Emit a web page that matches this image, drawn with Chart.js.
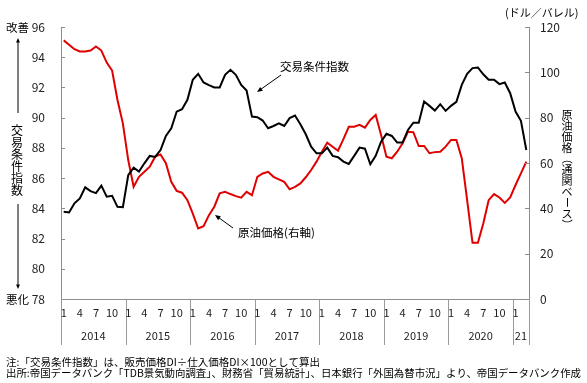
<!DOCTYPE html>
<html>
<head>
<meta charset="utf-8">
<script src="https://cdn.jsdelivr.net/npm/chart.js@4/dist/chart.umd.min.js"></script>
<style>
  html, body { margin: 0; padding: 0; background: #fff; }
  #wrap { width: 587px; height: 383px; position: relative; }
</style>
</head>
<body>
<div id="wrap"><canvas id="chart"></canvas></div>
<script>
// Years on the x axis and how many months each one has
const years = ['2014', '2015', '2016', '2017', '2018', '2019', '2020', '21'];
const monthsPerYear = [12, 12, 12, 12, 12, 12, 12, 3];
const monthTicks = ['1', '', '', '4', '', '', '7', '', '', '10', '', ''];

// 交易条件指数 (left axis)
const termsOfTrade = [
  83.77, 83.73, 84.33, 84.66, 85.39, 85.14, 85.01, 85.5, 84.77, 84.83, 84.1, 84.07,
  86.2, 86.69, 86.43, 86.98, 87.47, 87.4, 87.86, 88.79, 89.3, 90.4, 90.56, 91.18,
  92.51, 92.9, 92.33, 92.15, 92.0, 92.0, 92.84, 93.17, 92.84, 92.17, 91.8, 90.07,
  90.03, 89.81, 89.3, 89.45, 89.63, 89.45, 89.97, 90.14, 89.57, 88.9, 88.08, 87.64,
  87.64, 88.02, 87.47, 87.38, 87.09, 86.94, 87.47, 88.02, 87.95, 86.92, 87.47, 88.41,
  88.93, 88.79, 88.35, 88.35, 89.19, 89.67, 89.67, 91.07, 90.78, 90.47, 90.89, 90.45,
  90.78, 91.05, 92.17, 92.9, 93.28, 93.32, 92.87, 92.51, 92.51, 92.22, 92.33, 91.62,
  90.4, 89.79, 87.86
];

// 原油価格 (right axis, ドル/バレル)
const crudeOil = [
  114.1, 112.2, 110.2, 109.2, 109.2, 109.6, 111.4, 109.6, 104.3, 100.8, 87.8, 77.5,
  61.3, 49.5, 53.9, 56.1, 58.4, 62.8, 63.8, 59.9, 51.7, 47.7, 46.9, 43.6,
  37.7, 31.1, 32.1, 37.0, 40.7, 46.6, 47.3, 46.3, 45.4, 44.7, 47.3, 45.8,
  53.9, 55.4, 56.1, 53.9, 52.8, 51.7, 48.4, 49.5, 51.0, 53.7, 56.9, 60.6,
  65.0, 69.0, 67.2, 65.4, 70.5, 76.0, 76.0, 76.8, 75.6, 79.0, 81.2, 72.4,
  62.8, 62.1, 65.0, 68.7, 73.8, 73.6, 67.5, 67.5, 64.3, 64.8, 65.0, 67.2,
  70.2, 70.2, 62.1, 43.6, 24.8, 24.8, 33.3, 43.6, 46.3, 44.8, 42.4, 44.8,
  50.3, 55.4, 60.6
];

const FONT = '"Noto Sans CJK JP", "Noto Sans", sans-serif';
const AXIS_GRAY = '#8c8c8c';

// build category labels
const labels = [];
const monthLabels = [];
years.forEach((y, yi) => {
  for (let m = 0; m < monthsPerYear[yi]; m++) {
    labels.push(y + '/' + (m + 1));
    monthLabels.push(monthTicks[m]);
  }
});

function arrow(ctx, x1, y1, x2, y2, size) {
  const a = Math.atan2(y2 - y1, x2 - x1);
  ctx.beginPath();
  ctx.moveTo(x1, y1);
  ctx.lineTo(x2 - Math.cos(a) * size * 0.8, y2 - Math.sin(a) * size * 0.8);
  ctx.stroke();
  ctx.beginPath();
  ctx.moveTo(x2, y2);
  ctx.lineTo(x2 - size * Math.cos(a - 0.4), y2 - size * Math.sin(a - 0.4));
  ctx.lineTo(x2 - size * Math.cos(a + 0.4), y2 - size * Math.sin(a + 0.4));
  ctx.closePath();
  ctx.fill();
}

// one character per line, brackets and long vowel turned for vertical writing
function verticalText(ctx, text, x, y, step) {
  const rotated = '（）ー';
  for (const ch of text) {
    const cy = y + step / 2;
    if (rotated.includes(ch)) {
      ctx.save();
      ctx.translate(x, cy);
      ctx.rotate(Math.PI / 2);
      ctx.fillText(ch, 0, 0);
      ctx.restore();
    } else {
      ctx.fillText(ch, x, cy);
    }
    y += step;
  }
}

const decorPlugin = {
  id: 'decor',
  afterDraw(chart) {
    const ctx = chart.ctx;
    const xs = chart.scales.x;
    const yl = chart.scales.y;
    const yr = chart.scales.y1;
    const area = chart.chartArea;
    ctx.save();

    // inner tick marks on both value axes
    ctx.strokeStyle = AXIS_GRAY;
    ctx.lineWidth = 1;
    yl.ticks.forEach(t => {
      const py = Math.round(yl.getPixelForValue(t.value)) + 0.5;
      ctx.beginPath(); ctx.moveTo(area.left, py); ctx.lineTo(area.left + 4, py); ctx.stroke();
    });
    yr.ticks.forEach(t => {
      const py = Math.round(yr.getPixelForValue(t.value)) + 0.5;
      ctx.beginPath(); ctx.moveTo(area.right - 4, py); ctx.lineTo(area.right, py); ctx.stroke();
    });

    // year separators below the axis
    const bounds = [area.left];
    let idx = 0;
    monthsPerYear.forEach(n => {
      idx += n;
      if (idx < labels.length) {
        bounds.push((xs.getPixelForValue(idx - 1) + xs.getPixelForValue(idx)) / 2);
      }
    });
    bounds.push(area.right);
    ctx.strokeStyle = '#9a9a9a';
    bounds.forEach(bx => {
      const px = Math.round(bx) + 0.5;
      ctx.beginPath(); ctx.moveTo(px, area.bottom); ctx.lineTo(px, 345); ctx.stroke();
    });

    // month labels and years
    ctx.fillStyle = '#222';
    ctx.textAlign = 'center';
    ctx.textBaseline = 'middle';
    ctx.font = '11px ' + FONT;
    monthLabels.forEach((m, i) => {
      if (m) ctx.fillText(m, xs.getPixelForValue(i), 313);
    });
    years.forEach((y, yi) => {
      ctx.fillText(y, (bounds[yi] + bounds[yi + 1]) / 2, 336);
    });

    // left side labels
    ctx.fillStyle = '#000';
    ctx.strokeStyle = '#000';
    ctx.font = '11.5px ' + FONT;
    ctx.textAlign = 'left';
    ctx.fillText('改善', 6, 28);
    ctx.fillText('悪化', 6, 300);
    ctx.textAlign = 'center';
    ctx.font = '12px ' + FONT;
    verticalText(ctx, '交易条件指数', 17, 124, 12);
    arrow(ctx, 18, 113, 18, 38, 5);
    arrow(ctx, 18, 204, 18, 289, 5);

    // right side labels
    ctx.font = '11px ' + FONT;
    ctx.textAlign = 'left';
    ctx.fillText('(ドル／バレル)', 505, 13);
    ctx.textAlign = 'center';
    verticalText(ctx, '原油価格（通関ベース）', 567, 109, 11);

    // series annotations
    ctx.textAlign = 'left';
    ctx.font = '11.5px ' + FONT;
    ctx.fillText('交易条件指数', 280, 67);
    arrow(ctx, 281, 75, 257, 92, 6);
    ctx.fillText('原油価格(右軸)', 238, 233);
    arrow(ctx, 233, 228, 215, 215, 6);

    // notes
    ctx.font = '10.5px ' + FONT;
    ctx.fillText('注:「交易条件指数」は、販売価格DI÷仕入価格DI×100として算出', 6, 362);
    ctx.fillText('出所:帝国データバンク「TDB景気動向調査」、財務省「貿易統計」、日本銀行「外国為替市況」より、帝国データバンク作成', 6, 373, 575);

    ctx.restore();
  }
};

const ctx = document.getElementById('chart').getContext('2d');
new Chart(ctx, {
  type: 'line',
  data: {
    labels: labels,
    datasets: [
      {
        label: '交易条件指数',
        data: termsOfTrade,
        yAxisID: 'y',
        borderColor: '#000000',
        borderWidth: 2,
        pointRadius: 0,
        tension: 0
      },
      {
        label: '原油価格(右軸)',
        data: crudeOil,
        yAxisID: 'y1',
        borderColor: '#e00000',
        borderWidth: 2,
        pointRadius: 0,
        tension: 0
      }
    ]
  },
  options: {
    responsive: true,
    maintainAspectRatio: false,
    animation: false,
    layout: { padding: { top: 27, bottom: 84, left: 0, right: 0 } },
    plugins: {
      legend: { display: false },
      tooltip: { enabled: false }
    },
    scales: {
      x: {
        offset: true,
        ticks: { display: false },
        grid: { display: true, drawOnChartArea: false, drawTicks: false },
        border: { display: true, color: AXIS_GRAY, width: 1 }
      },
      y: {
        position: 'left',
        min: 78,
        max: 96,
        ticks: { stepSize: 2, padding: 16, color: '#222', font: { family: FONT, size: 12 } },
        grid: { display: true, drawOnChartArea: false, drawTicks: false },
        border: { display: true, color: AXIS_GRAY, width: 1 },
        afterFit(scale) { scale.width = 61; }
      },
      y1: {
        position: 'right',
        min: 0,
        max: 120,
        ticks: { stepSize: 20, padding: 11, color: '#222', font: { family: FONT, size: 12 } },
        grid: { display: true, drawOnChartArea: false, drawTicks: false },
        border: { display: true, color: AXIS_GRAY, width: 1 },
        afterFit(scale) { scale.width = 58; }
      }
    }
  },
  plugins: [decorPlugin]
});
</script>
</body>
</html>
